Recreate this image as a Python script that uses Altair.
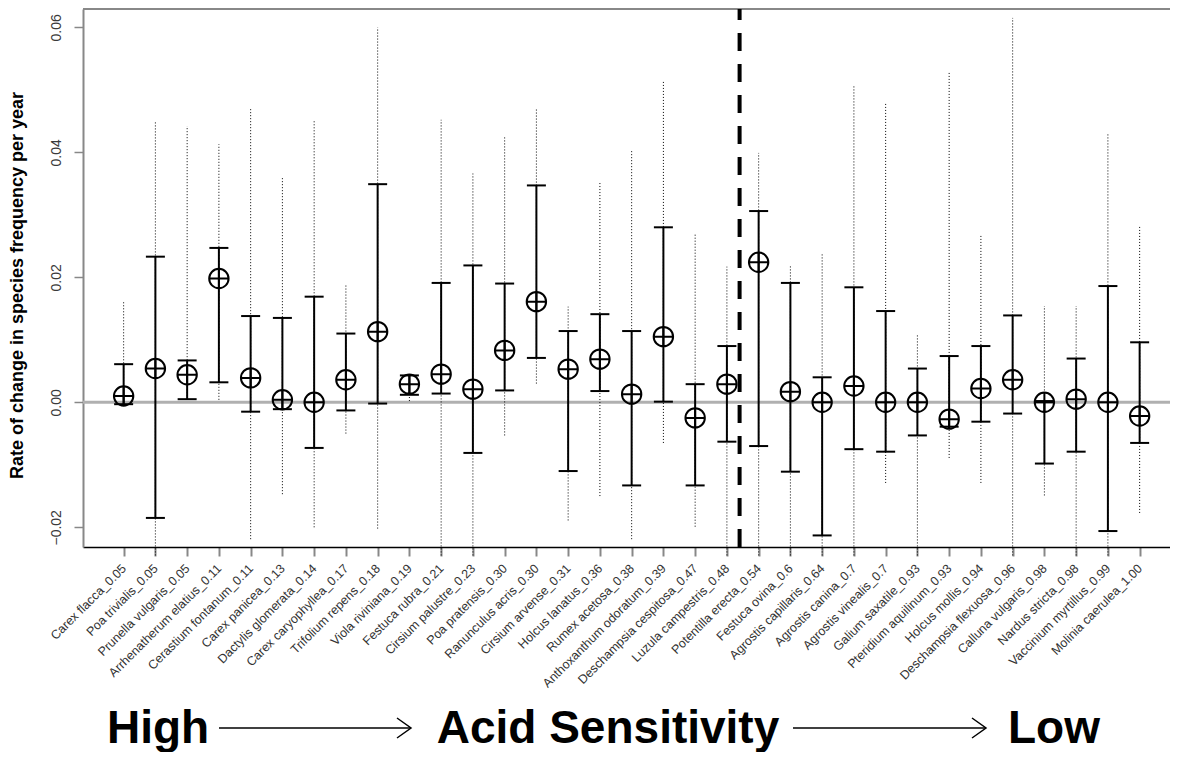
import json
import altair as alt
import pandas as pd

species = [
    "Carex flacca_0.05", "Poa trivialis_0.05", "Prunella vulgaris_0.05",
    "Arrhenatherum elatius_0.11", "Cerastium fontanum_0.11", "Carex panicea_0.13",
    "Dactylis glomerata_0.14", "Carex caryophyllea_0.17", "Trifolium repens_0.18",
    "Viola riviniana_0.19", "Festuca rubra_0.21", "Cirsium palustre_0.23",
    "Poa pratensis_0.30", "Ranunculus acris_0.30", "Cirsium arvense_0.31",
    "Holcus lanatus_0.36", "Rumex acetosa_0.38", "Anthoxanthum odoratum_0.39",
    "Deschampsia cespitosa_0.47", "Luzula campestris_0.48", "Potentilla erecta_0.54",
    "Festuca ovina_0.6", "Agrostis capillaris_0.64", "Agrostis canina_0.7",
    "Agrostis vinealis_0.7", "Galium saxatile_0.93", "Pteridium aquilinum_0.93",
    "Holcus mollis_0.94", "Deschampsia flexuosa_0.96", "Calluna vulgaris_0.98",
    "Nardus stricta_0.98", "Vaccinium myrtillus_0.99", "Molinia caerulea_1.00",
]

estimate = [0.0010, 0.0054, 0.0044, 0.0198, 0.0039, 0.0004, 0.0000, 0.0036, 0.0113,
            0.0029, 0.0045, 0.0021, 0.0083, 0.0161, 0.0053, 0.0069, 0.0013, 0.0105,
            -0.0025, 0.0029, 0.0224, 0.0017, 0.0000, 0.0026, 0.0000, 0.0000, -0.0027,
            0.0022, 0.0036, 0.0000, 0.0005, 0.0000, -0.0022]

ci_low = [-0.0003, -0.0185, 0.0005, 0.0032, -0.0015, -0.0011, -0.0073, -0.0013, -0.0002,
          0.0012, 0.0014, -0.0081, 0.0019, 0.0071, -0.0110, 0.0018, -0.0133, 0.0001,
          -0.0133, -0.0063, -0.0070, -0.0111, -0.0213, -0.0075, -0.0079, -0.0053, -0.0039,
          -0.0031, -0.0018, -0.0098, -0.0079, -0.0206, -0.0065]

ci_high = [0.0061, 0.0233, 0.0067, 0.0247, 0.0138, 0.0135, 0.0169, 0.0110, 0.0349,
           0.0043, 0.0191, 0.0219, 0.0190, 0.0347, 0.0114, 0.0141, 0.0114, 0.0280,
           0.0029, 0.0090, 0.0306, 0.0191, 0.0040, 0.0184, 0.0146, 0.0054, 0.0074,
           0.0090, 0.0139, 0.0002, 0.0070, 0.0186, 0.0096]

pi_low = [0.0000, -0.0245, 0.0005, 0.0004, -0.0219, -0.0147, -0.0200, -0.0050, -0.0202,
          0.0002, -0.0245, -0.0245, -0.0053, 0.0030, -0.0189, -0.0150, -0.0219, -0.0065,
          -0.0199, -0.0245, -0.0245, -0.0245, -0.0245, -0.0245, -0.0129, -0.0245, -0.0089,
          -0.0129, -0.0245, -0.0149, -0.0245, -0.0245, -0.0177]

pi_high = [0.0160, 0.0450, 0.0442, 0.0413, 0.0471, 0.0361, 0.0452, 0.0190, 0.0600,
           0.0043, 0.0452, 0.0366, 0.0426, 0.0471, 0.0153, 0.0353, 0.0402, 0.0513,
           0.0271, 0.0217, 0.0399, 0.0218, 0.0238, 0.0506, 0.0480, 0.0107, 0.0527,
           0.0269, 0.0615, 0.0154, 0.0154, 0.0429, 0.0282]

y_ticks = [-0.02, 0.0, 0.02, 0.04, 0.06]
divider = 20.4  # position of the dashed separator (between species 20 and 21)

idx = list(range(1, len(species) + 1))
df = pd.DataFrame({"idx": idx, "species": species, "est": estimate,
                   "lo": ci_low, "hi": ci_high, "plo": pi_low, "phi": pi_high})
one = pd.DataFrame({"a": [0]})

W, H = 1087, 538
FONT = "Liberation Sans"

xscale = alt.Scale(domain=[-0.28, 33.956], nice=False, zero=False)
yscale = alt.Scale(domain=[-0.023152, 0.062928], nice=False, zero=False)

x_axis = alt.Axis(values=idx, labelExpr=json.dumps(species) + "[datum.value - 1]",
                  labelAngle=315, labelAlign="right", labelBaseline="middle",
                  labelFont=FONT, labelFontSize=12.5, labelColor="#333333",
                  labelPadding=10, labelOverlap=False, labelBound=False,
                  tickColor="#888888", tickSize=9, tickWidth=2,
                  domainColor="black", domainWidth=1.5, grid=False, title=None)
y_axis = alt.Axis(values=y_ticks, format=".2f", labelAngle=270, labelAlign="center",
                  labelBaseline="bottom", labelFont=FONT, labelFontSize=14,
                  labelColor="#3a3a3a", labelPadding=11, tickColor="#888888",
                  tickSize=9, tickWidth=1.5, domainColor="#888888", domainWidth=2,
                  grid=False, title="Rate of change in species frequency per year",
                  titleFont=FONT, titleFontSize=18, titleFontWeight="bold",
                  titleColor="black", titleX=-61, titleY=276, titleAngle=270,
                  titleAlign="center", titleBaseline="alphabetic")

X = alt.X("idx:Q", scale=xscale, axis=x_axis)

top_border = alt.Chart(one).mark_rule(color="#888888", strokeWidth=2).encode(
    x=alt.value(0), x2=alt.value(W), y=alt.value(0))

zero_line = alt.Chart(one).mark_rule(color="#b0b0b0", strokeWidth=3).encode(
    y=alt.Y(datum=0, scale=yscale, axis=y_axis))

dashed = alt.Chart(one).mark_rule(color="black", strokeWidth=4, strokeDash=[18, 13],
                                  strokeDashOffset=7).encode(
    x=alt.X(datum=divider, scale=xscale, axis=x_axis))

dotted = alt.Chart(df).mark_rule(color="black", strokeWidth=1, strokeDash=[1, 2]).encode(
    x=X, y=alt.Y("plo:Q", scale=yscale, axis=y_axis), y2="phi:Q")

solid = alt.Chart(df).mark_rule(color="black", strokeWidth=2).encode(
    x=X, y=alt.Y("lo:Q", scale=yscale, axis=y_axis), y2="hi:Q")

cap_hi = alt.Chart(df).mark_rule(color="black", strokeWidth=2,
                                 xOffset=-9.5, x2Offset=9.5).encode(
    x=X, x2="idx:Q", y=alt.Y("hi:Q", scale=yscale, axis=y_axis))

cap_lo = alt.Chart(df).mark_rule(color="black", strokeWidth=2,
                                 xOffset=-9.5, x2Offset=9.5).encode(
    x=X, x2="idx:Q", y=alt.Y("lo:Q", scale=yscale, axis=y_axis))

circle_plus = "M-1,0A1,1 0 1,1 1,0A1,1 0 1,1 -1,0M-1,0L1,0M0,-1L0,1"
points = alt.Chart(df).mark_point(shape=circle_plus, size=376, filled=False,
                                  strokeWidth=2, color="black", opacity=1).encode(
    x=X, y=alt.Y("est:Q", scale=yscale, axis=y_axis),
    tooltip=["species:N", "est:Q", "lo:Q", "hi:Q"])

TEXT_BASE = 734
ARROW_Y = 719


def big_text(label, cx):
    return alt.Chart(one).mark_text(font=FONT, fontWeight="bold", fontSize=46,
                                    align="center", baseline="alphabetic",
                                    color="black").encode(
        x=alt.value(cx), y=alt.value(TEXT_BASE), text=alt.value(label))


def arrow(x0, x1):
    shaft = alt.Chart(one).mark_rule(color="black", strokeWidth=1.5).encode(
        x=alt.value(x0), x2=alt.value(x1), y=alt.value(ARROW_Y))
    head = alt.Chart(one).mark_point(shape="M-1,-1.43L1,0L-1,1.43", size=196,
                                     filled=False, strokeWidth=1.5, color="black",
                                     opacity=1).encode(
        x=alt.value(x1 - 7), y=alt.value(ARROW_Y))
    return shaft + head


chart = alt.layer(
    zero_line, top_border, dashed, dotted, solid, cap_hi, cap_lo, points,
    big_text("High", 75), arrow(136, 328),
    big_text("Acid Sensitivity", 525), arrow(710, 903),
    big_text("Low", 971),
).properties(
    width=W, height=H,
    autosize=alt.AutoSizeParams(type="none"),
    padding={"left": 75, "top": 1, "right": 0, "bottom": 205},
    background="white",
).configure_view(stroke=None)

chart.save("out.html", embed_options={"renderer": "svg", "actions": False})
